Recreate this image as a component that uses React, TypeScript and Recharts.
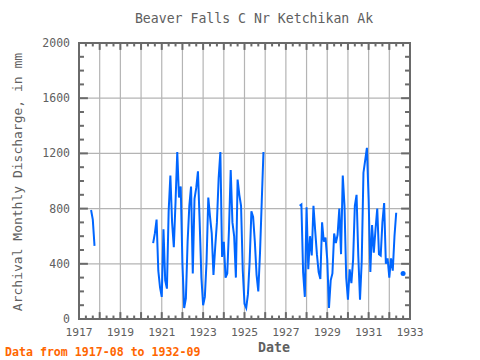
import React from "react";
import {
  LineChart,
  Line,
  XAxis,
  YAxis,
  CartesianGrid,
  ReferenceLine,
  ReferenceArea,
} from "recharts";

// monthly discharge (mm), one array per continuous stretch
const SEG1_START = "1917-08";
const SEG1 = [790, 720, 530];

const SEG2_START = "1920-08";
const SEG2 = [
  550, 620, 720, 350, 230, // 1920-08..12
  160, 650, 280, 220, 780, 1040, 700, 520, 850, 1210, 880, 960, // 1921
  400, 80, 150, 560, 820, 960, 330, 870, 950, 1070, 700, 300, // 1922
  100, 160, 420, 880, 740, 620, 320, 520, 700, 1020, 1210, 450, // 1923
  560, 300, 330, 650, 1080, 700, 600, 300, 1010, 900, 820, 350, // 1924
  110, 80, 180, 420, 780, 740, 560, 320, 200, 480, 850, 1210, // 1925
];

const SEG3_START = "1927-09";
const SEG3 = [
  820, 830, 340, 160, // 1927-09..12
  810, 360, 600, 460, 820, 640, 470, 340, 290, 700, 560, 590, // 1928
  430, 80, 280, 330, 620, 550, 610, 800, 470, 1040, 820, 300, // 1929
  140, 360, 260, 430, 820, 900, 460, 140, 420, 1060, 1150, 1240, // 1930
  870, 340, 680, 480, 650, 800, 470, 460, 700, 840, 400, 440, // 1931
  300, 440, 350, 600, 770, // 1932-01..05
];

const LAST_MONTH = "1932-09";
const LAST_VALUE = 330;

const FIRST_MONTH = "1917-08";
const X_TICKS = [1917, 1918, 1919, 1920, 1921, 1922, 1923, 1924, 1925, 1926, 1927, 1928, 1929, 1930, 1931, 1932, 1933];
const Y_TICKS = [0, 400, 800, 1200, 1600, 2000];

const LINE_COLOR = "#0066ff";
const FRAME = "#6a6a6a";
const TEXT = "#606060";
const MONO = "'DejaVu Sans Mono', monospace";

const monthIndex = (ym: string) => {
  const [y, m] = ym.split("-").map(Number);
  return y * 12 + (m - 1);
};

const values = new Map<number, number>();
const addSeg = (start: string, vals: number[]) => {
  const s = monthIndex(start);
  vals.forEach((v, i) => values.set(s + i, v));
};
addSeg(SEG1_START, SEG1);
addSeg(SEG2_START, SEG2);
addSeg(SEG3_START, SEG3);
values.set(monthIndex(LAST_MONTH), LAST_VALUE);

const data: { t: number; v: number | null }[] = [];
for (let k = monthIndex(FIRST_MONTH); k <= monthIndex(LAST_MONTH); k++) {
  data.push({ t: k / 12, v: values.has(k) ? (values.get(k) as number) : null });
}

// tick marks drawn inward on all four sides
const X_MAJ = 50;
const X_MIN = 25;
const Y_MAJ = 0.43;
const Y_MIN = 0.24;
const xMinor: number[] = [];
for (let y = 1917; y < 1933; y++) xMinor.push(y + 1 / 3, y + 2 / 3);
const yMinor: number[] = [];
for (let v = 100; v < 2000; v += 100) if (v % 400 !== 0) yMinor.push(v);

const renderDot = (props: any) => {
  const { cx, cy, index } = props;
  const cur = data[index]?.v;
  const prev = data[index - 1]?.v;
  const next = data[index + 1]?.v;
  if (cur != null && prev == null && next == null) {
    return <circle key={`d${index}`} cx={cx} cy={cy} r={2.5} fill={LINE_COLOR} />;
  }
  return <g key={`d${index}`} />;
};

export default function App() {
  const tickLine = (key: string, seg: { x: number; y: number }[]) => (
    <ReferenceLine key={key} segment={seg} stroke={FRAME} strokeWidth={2} />
  );
  return (
    <div style={{ position: "absolute", left: 0, top: 0, width: 480, height: 360, background: "#fff" }}>
      <LineChart width={480} height={360} data={data} margin={{ top: 43, right: 70, bottom: 0, left: 0 }}>
        <CartesianGrid stroke="#b4b4b4" strokeWidth={1.2} />
        <XAxis
          type="number"
          dataKey="t"
          domain={[1917, 1933]}
          ticks={X_TICKS}
          interval={0}
          height={41}
          axisLine={false}
          tickLine={false}
          tickSize={6}
          tickMargin={3}
          tickFormatter={(v: number) => ((v - 1917) % 2 === 0 ? String(v) : "")}
          tick={{ fontFamily: MONO, fontSize: 11.3, fill: TEXT }}
        />
        <YAxis
          type="number"
          domain={[0, 2000]}
          ticks={Y_TICKS}
          width={79}
          axisLine={false}
          tickLine={false}
          tickSize={6}
          tickMargin={3}
          tick={{ fontFamily: MONO, fontSize: 11.5, fill: TEXT }}
        />
        <ReferenceArea x1={1917} x2={1933} y1={0} y2={2000} fill="none" stroke={FRAME} strokeWidth={2} />
        {X_TICKS.map((x) => tickLine(`xt${x}`, [{ x, y: 2000 }, { x, y: 2000 - X_MAJ }]))}
        {X_TICKS.map((x) => tickLine(`xb${x}`, [{ x, y: 0 }, { x, y: X_MAJ }]))}
        {xMinor.map((x) => tickLine(`xmt${x}`, [{ x, y: 2000 }, { x, y: 2000 - X_MIN }]))}
        {xMinor.map((x) => tickLine(`xmb${x}`, [{ x, y: 0 }, { x, y: X_MIN }]))}
        {Y_TICKS.map((y) => tickLine(`yl${y}`, [{ x: 1917, y }, { x: 1917 + Y_MAJ, y }]))}
        {Y_TICKS.map((y) => tickLine(`yr${y}`, [{ x: 1933, y }, { x: 1933 - Y_MAJ, y }]))}
        {yMinor.map((y) => tickLine(`yml${y}`, [{ x: 1917, y }, { x: 1917 + Y_MIN, y }]))}
        {yMinor.map((y) => tickLine(`ymr${y}`, [{ x: 1933, y }, { x: 1933 - Y_MIN, y }]))}
        <Line
          type="linear"
          dataKey="v"
          stroke={LINE_COLOR}
          strokeWidth={2}
          dot={renderDot}
          activeDot={false}
          connectNulls={false}
          isAnimationActive={false}
        />
      </LineChart>
      <svg width={480} height={360} style={{ position: "absolute", left: 0, top: 0, pointerEvents: "none" }}>
        <text x={254} y={23} textAnchor="middle" fontFamily={MONO} fontSize={13.2} fill={TEXT}>
          Beaver Falls C Nr Ketchikan Ak
        </text>
        <text
          x={22}
          y={182}
          transform="rotate(-90 22 182)"
          textAnchor="middle"
          fontFamily={MONO}
          fontSize={13}
          fill={TEXT}
        >
          Archival Monthly Discharge, in mm
        </text>
        <text x={274} y={352} textAnchor="middle" fontFamily={MONO} fontSize={13.3} fontWeight="bold" fill={TEXT}>
          Date
        </text>
        <text x={5} y={356} fontFamily={MONO} fontSize={11.6} fontWeight="bold" fill="#ff6600">
          Data from 1917-08 to 1932-09
        </text>
      </svg>
    </div>
  );
}
